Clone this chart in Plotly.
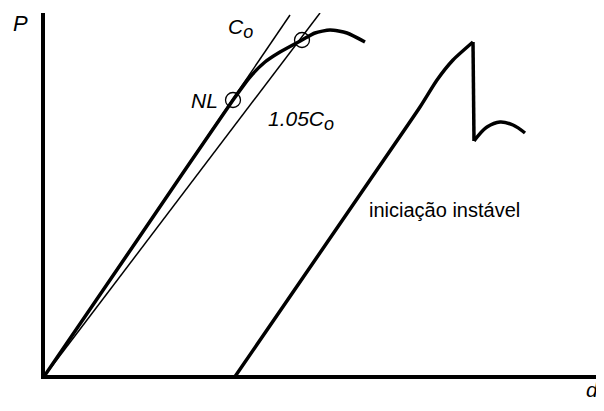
import plotly.graph_objects as go

# --- data (d, P in arbitrary units) ---
curve1_d = [0.0, 9.5, 19.0, 20.7, 22.2, 23.7, 25.9, 27.2, 28.7, 30.4, 32.2]
curve1_P = [0.0, 13.9, 27.8, 30.1, 31.6, 32.6, 33.8, 34.5, 34.8, 34.5, 33.6]

line_co_d = [0.0, 24.7]
line_co_P = [0.0, 36.3]

line_105_d = [0.0, 27.7]
line_105_P = [0.0, 36.5]

curve2_d = [19.1, 32.7, 37.7, 39.4, 41.0, 43.0]
curve2_P = [0.0, 19.8, 27.1, 29.8, 31.8, 33.6]
drop_d = [43.0, 43.1]
drop_P = [33.6, 23.7]
hump_d = [43.1, 43.4, 44.4, 45.7, 47.0, 48.2]
hump_P = [23.7, 24.1, 25.1, 25.6, 25.3, 24.5]

points_d = [19.0, 25.9]
points_P = [27.8, 33.8]

FONT = "Liberation Sans, Arial, sans-serif"

fig = go.Figure()
thick = dict(color="black", width=3.5)
thin = dict(color="black", width=1.5)

fig.add_trace(go.Scatter(x=line_co_d, y=line_co_P, mode="lines", line=thin))
fig.add_trace(go.Scatter(x=line_105_d, y=line_105_P, mode="lines", line=thin))
fig.add_trace(go.Scatter(x=curve1_d, y=curve1_P, mode="lines",
                         line=dict(color="black", width=3.5, shape="spline", smoothing=0.6)))
fig.add_trace(go.Scatter(x=curve2_d, y=curve2_P, mode="lines",
                         line=dict(color="black", width=3.5, shape="spline", smoothing=0.6)))
fig.add_trace(go.Scatter(x=drop_d, y=drop_P, mode="lines", line=thick))
fig.add_trace(go.Scatter(x=hump_d, y=hump_P, mode="lines",
                         line=dict(color="black", width=3.5, shape="spline", smoothing=1.0)))
fig.add_trace(go.Scatter(x=points_d, y=points_P, mode="markers",
                         marker=dict(symbol="circle-open", size=15, color="black",
                                     line=dict(width=1.3, color="black")),
                         cliponaxis=False))

SUB = "<sub><span style='font-size:18px'>o</span></sub>"
ann = [
    dict(x=19.7, y=35.0, text="<i>C" + SUB + "</i>", size=21),
    dict(x=16.1, y=27.8, text="<i>NL</i>", size=21),
    dict(x=25.8, y=25.8, text="<i>1.05C" + SUB + "</i>", size=21),
    dict(x=40.1, y=16.8, text="iniciação instável", size=20),
]
for a in ann:
    fig.add_annotation(x=a["x"], y=a["y"], text=a["text"], showarrow=False,
                       xref="x", yref="y", xanchor="center", yanchor="middle",
                       font=dict(family=FONT, size=a["size"], color="black"))

# axis titles placed like the reference (outside the plot area)
fig.add_annotation(x=-0.0447, y=0.97, xref="paper", yref="paper", text="<i>P</i>",
                   showarrow=False, xanchor="center", yanchor="middle",
                   font=dict(family=FONT, size=22, color="black"))
fig.add_annotation(x=0.994, y=-0.003, xref="paper", yref="paper", text="<i>d</i>",
                   showarrow=False, xanchor="right", yanchor="top",
                   font=dict(family=FONT, size=21, color="black"))

fig.update_layout(
    width=596, height=403,
    margin=dict(l=37, r=0, t=5, b=36),
    paper_bgcolor="white", plot_bgcolor="white",
    showlegend=False,
    xaxis=dict(range=[0.2, 56.1], showgrid=False, zeroline=False, showticklabels=False,
               ticks="", showline=True, linewidth=3.5, linecolor="black"),
    yaxis=dict(range=[0.3, 36.5], showgrid=False, zeroline=False, showticklabels=False,
               ticks="", showline=True, linewidth=3.5, linecolor="black"),
)

fig.write_html("out.html")
